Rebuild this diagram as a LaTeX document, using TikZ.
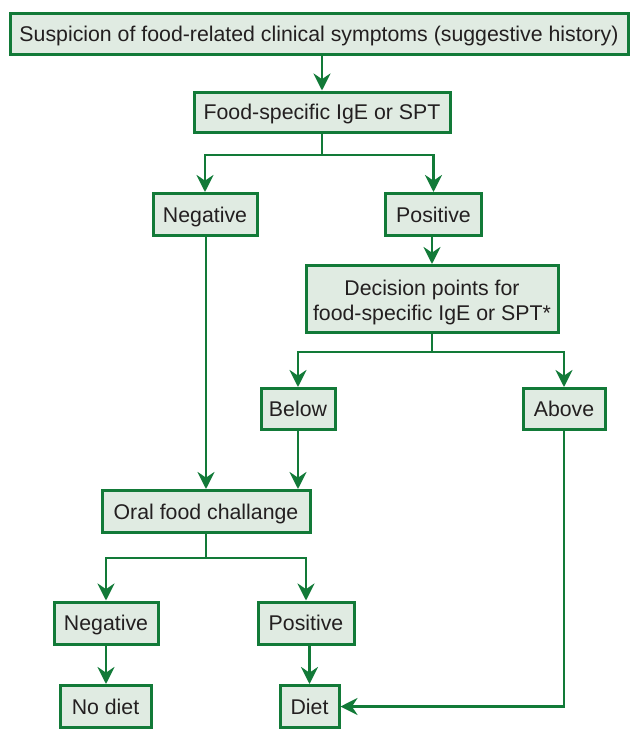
\documentclass[tikz,border=0pt]{standalone}
\usepackage{fontspec}
\setmainfont{Liberation Sans}
\usetikzlibrary{arrows.meta}
\definecolor{boxgreen}{RGB}{18,122,56}
\definecolor{boxfill}{RGB}{224,235,226}
\definecolor{boxtext}{RGB}{35,31,32}
\begin{document}
\begin{tikzpicture}[x=0.5pt,y=-0.5pt,
  stepbox/.style={draw=boxgreen,fill=boxfill,line width=1.5pt,inner sep=0pt,
    text=boxtext,align=center,text height=9.6pt,text depth=2pt,
    font=\fontsize{10.65}{12.5}\selectfont},
  flow/.style={draw=boxgreen,line width=1.45pt,-{Stealth[length=8.5pt,width=8.5pt,inset=2.8pt]}},
  joint/.style={draw=boxgreen,line width=1.45pt}]
\useasboundingbox (0,0) rectangle (631,730);

\node[stepbox,minimum width=309pt,minimum height=20.5pt] (top) at (319,34)
  {Suspicion of food-related clinical symptoms (suggestive history)};
\node[stepbox,minimum width=128pt,minimum height=20pt] (ige) at (322,112)
  {Food-specific IgE or SPT};
\node[stepbox,minimum width=52pt,minimum height=21pt] (neg1) at (205,214.5) {Negative};
\node[stepbox,minimum width=48pt,minimum height=21pt] (pos1) at (433.5,214.5) {Positive};
\node[stepbox,text height=21.6pt,text depth=0pt,minimum width=126pt,minimum height=33.5pt] (dec) at (432,299)
  {Decision points for\\food-specific IgE or SPT*};
\node[stepbox,minimum width=37pt,minimum height=20.5pt] (below) at (298,409) {Below};
\node[stepbox,minimum width=41pt,minimum height=20.5pt] (above) at (564,409) {Above};
\node[stepbox,minimum width=104pt,minimum height=21pt] (ofc) at (206,511.5) {Oral food challange};
\node[stepbox,minimum width=52pt,minimum height=21pt] (neg2) at (106,623) {Negative};
\node[stepbox,minimum width=48pt,minimum height=21pt] (pos2) at (306,623) {Positive};
\node[stepbox,minimum width=45.5pt,minimum height=21pt] (nodiet) at (105.5,706.5) {No diet};
\node[stepbox,minimum width=29.5pt,minimum height=21pt] (diet) at (309.5,706.5) {Diet};

% branch levels
\coordinate (b1) at (322,155);
\coordinate (b2) at (432,352);
\coordinate (b3) at (206,558);

\draw[flow] (ige.north |- top.south) -- (ige.north);

\draw[joint] (ige.south) -- (ige.south |- b1);
\draw[flow] (ige.south |- b1) -| (neg1.north);
\draw[flow] (ige.south |- b1) -| (pos1.north);

\draw[flow] (dec.north |- pos1.south) -- (dec.north);

\draw[joint] (dec.south) -- (b2);
\draw[flow] (b2) -| (below.north);
\draw[flow] (b2) -| (above.north);

\draw[flow] (ofc.north |- neg1.south) -- (ofc.north);
\draw[flow] (below.south) -- (below.south |- ofc.north);

\draw[joint] (ofc.south) -- (b3);
\draw[flow] (b3) -| (neg2.north);
\draw[flow] (b3) -| (pos2.north);

\draw[flow] (neg2.south) -- (neg2.south |- nodiet.north);
\draw[flow] (diet.north |- pos2.south) -- (diet.north);
\draw[flow] (above.south) |- (diet.east);
\end{tikzpicture}
\end{document}
